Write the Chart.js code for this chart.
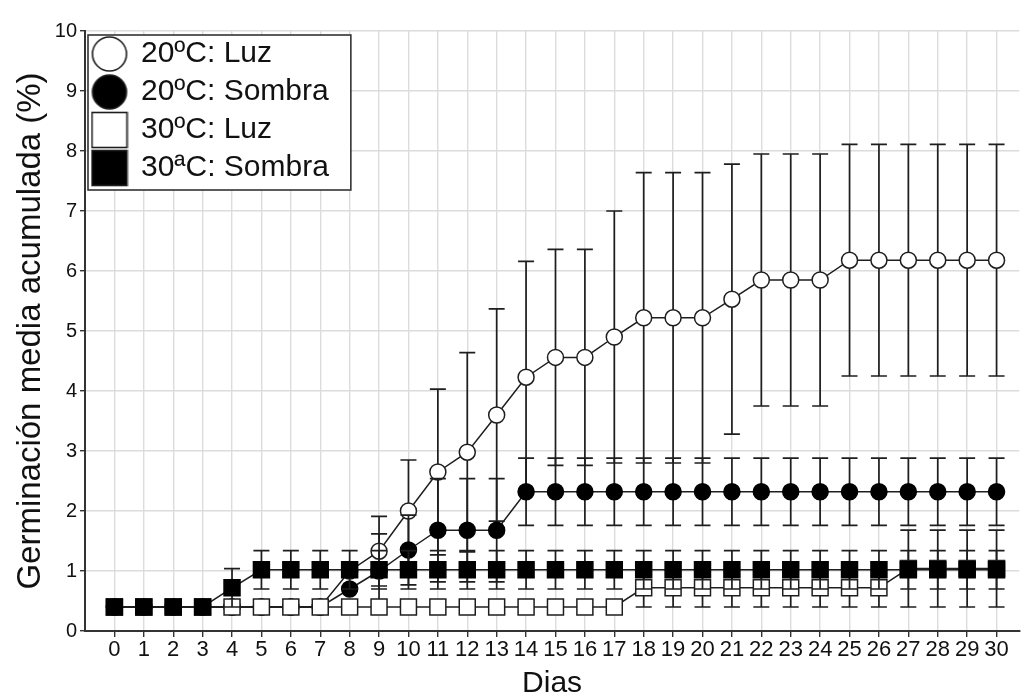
<!DOCTYPE html>
<html lang="es">
<head>
<meta charset="utf-8">
<title>Germinación media acumulada</title>
<script src="https://cdn.jsdelivr.net/npm/chart.js@4.4.1/dist/chart.umd.min.js"></script>
<style>
  html, body { margin: 0; padding: 0; background: #fff; }
  #wrap { width: 1032px; height: 698px; }
</style>
</head>
<body>
<div id="wrap"><canvas id="chart" width="1032" height="698"></canvas></div>
<script>
// Días de ensayo
const days = [0,1,2,3,4,5,6,7,8,9,10,11,12,13,14,15,16,17,18,19,20,21,22,23,24,25,26,27,28,29,30];

// 20ºC: Luz — media y desviación
const luz20   = [0.4,0.4,0.4,0.4,0.4,0.4,0.4,0.4,1.0,1.33,2.0,2.65,2.98,3.6,4.23,4.56,4.56,4.9,5.22,5.22,5.22,5.53,5.85,5.85,5.85,6.18,6.18,6.18,6.18,6.18,6.18];
const luz20Sd = [0,0,0,0,0,0,0,0,0,0.58,0.85,1.38,1.66,1.77,1.93,1.8,1.8,2.1,2.42,2.42,2.42,2.25,2.1,2.1,2.1,1.93,1.93,1.93,1.93,1.93,1.93];

// 20ºC: Sombra
const sombra20   = [0.4,0.4,0.4,0.4,0.4,0.4,0.4,0.4,0.7,1.0,1.35,1.68,1.68,1.68,2.32,2.32,2.32,2.32,2.32,2.32,2.32,2.32,2.32,2.32,2.32,2.32,2.32,2.32,2.32,2.32,2.32];
const sombra20Sd = [0,0,0,0,0,0,0,0,0,0.62,0.58,0.86,0.86,0.86,0.56,0.56,0.56,0.56,0.56,0.56,0.56,0.56,0.56,0.56,0.56,0.56,0.56,0.56,0.56,0.56,0.56];

// 30ºC: Luz
const luz30   = [0.4,0.4,0.4,0.4,0.4,0.4,0.4,0.4,0.4,0.4,0.4,0.4,0.4,0.4,0.4,0.4,0.4,0.4,0.72,0.72,0.72,0.72,0.72,0.72,0.72,0.72,0.72,1.04,1.04,1.04,1.04];
const luz30Sd = [0,0,0,0,0,0,0,0,0,0,0,0,0,0,0,0,0,0,0.32,0.32,0.32,0.32,0.32,0.32,0.32,0.32,0.32,0.64,0.64,0.64,0.64];

// 30ªC: Sombra
const sombra30   = [0.4,0.4,0.4,0.4,0.72,1.02,1.02,1.02,1.02,1.02,1.02,1.02,1.02,1.02,1.02,1.02,1.02,1.02,1.02,1.02,1.02,1.02,1.02,1.02,1.02,1.02,1.02,1.02,1.02,1.02,1.02];
const sombra30Sd = [0,0,0,0,0.32,0.32,0.32,0.32,0.32,0.32,0.32,0.32,0.32,0.32,0.32,0.32,0.32,0.32,0.32,0.32,0.32,0.32,0.32,0.32,0.32,0.32,0.32,0.32,0.32,0.32,0.32];

const seriesLabels = ['20ºC: Luz', '20ºC: Sombra', '30ºC: Luz', '30ªC: Sombra'];
const yTickValues = [0,1,2,3,4,5,6,7,8,9,10];
const xTitle = 'Dias';
const yTitle = 'Germinación media acumulada (%)';

const INK = '#1e1e1e';
Chart.defaults.font.family = '"Liberation Sans", Arial, Helvetica, sans-serif';
Chart.defaults.color = '#111';

const toPoints = vals => days.map((d, i) => ({ x: d, y: vals[i] }));

// Marker drawn in the legend box (larger than the plotted ones)
function legendMarker(shape, filled) {
  const size = 38;
  const c = document.createElement('canvas');
  c.width = size; c.height = size;
  const g = c.getContext('2d');
  g.lineWidth = 1.6;
  g.strokeStyle = INK;
  g.fillStyle = filled ? '#000' : '#fff';
  if (shape === 'circle') {
    g.beginPath();
    g.arc(size / 2, size / 2, 17, 0, Math.PI * 2);
    g.fill();
    g.stroke();
  } else {
    g.fillRect(1, 1, 36, 36);
    g.strokeRect(1.5, 1.5, 35, 35);
  }
  return c;
}

function series(label, vals, sd, shape, filled, order) {
  return {
    label,
    data: toPoints(vals),
    sd,
    order,
    filledMarker: filled,
    showLine: true,
    fill: false,
    tension: 0,
    borderColor: INK,
    borderWidth: 1.5,
    pointStyle: shape,
    pointRadius: shape === 'circle' ? 8 : 11.3,
    pointBackgroundColor: filled ? '#000' : '#fff',
    pointBorderColor: filled ? '#000' : INK,
    pointBorderWidth: 1.5
  };
}

// Error bars, drawn just before each dataset so the later series sit on top
const errorBars = {
  id: 'errorBars',
  beforeDatasetDraw(chart, args) {
    const ds = chart.data.datasets[args.index];
    if (!ds.sd) return;
    const { ctx, scales: { x, y } } = chart;
    const cap = 8;
    ctx.save();
    ctx.strokeStyle = INK;
    ctx.lineWidth = 1.7;
    ds.data.forEach((p, i) => {
      const s = ds.sd[i];
      if (!s) return;
      const px = x.getPixelForValue(p.x);
      const yTop = y.getPixelForValue(p.y + s);
      const yBot = y.getPixelForValue(p.y - s);
      ctx.beginPath();
      ctx.moveTo(px, yTop); ctx.lineTo(px, yBot);
      ctx.moveTo(px - cap, yTop); ctx.lineTo(px + cap, yTop);
      ctx.moveTo(px - cap, yBot); ctx.lineTo(px + cap, yBot);
      ctx.stroke();
    });
    ctx.restore();
  }
};

// White framed box behind the legend (covers the grid), then the legend on top
const legendFrame = {
  id: 'legendFrame',
  beforeDatasetsDraw(chart) {
    const lg = chart.legend;
    if (!lg || !lg.legendHitBoxes || !lg.legendHitBoxes.length) return;
    const hb = lg.legendHitBoxes;
    const left = hb[0].left - 5;
    const top = hb[0].top - 4;
    const right = Math.max(...hb.map(h => h.left + h.width)) + 22;
    const last = hb[hb.length - 1];
    const bottom = last.top + last.height + 7;
    const ctx = chart.ctx;
    ctx.save();
    ctx.fillStyle = '#fff';
    ctx.fillRect(left, top, right - left, bottom - top);
    ctx.strokeStyle = '#333';
    ctx.lineWidth = 1.6;
    ctx.strokeRect(left, top, right - left, bottom - top);
    ctx.restore();
    lg.draw();
  }
};

new Chart(document.getElementById('chart'), {
  type: 'line',
  data: {
    datasets: [
      series(seriesLabels[0], luz20, luz20Sd, 'circle', false, 4),
      series(seriesLabels[1], sombra20, sombra20Sd, 'circle', true, 3),
      series(seriesLabels[2], luz30, luz30Sd, 'rect', false, 2),
      series(seriesLabels[3], sombra30, sombra30Sd, 'rect', true, 1)
    ]
  },
  options: {
    responsive: false,
    devicePixelRatio: 1,
    animation: false,
    events: [],
    layout: { padding: { top: 31, left: 0, right: 0, bottom: 0 } },
    plugins: {
      tooltip: { enabled: false },
      legend: {
        position: 'chartArea',
        align: 'start',
        // empty title keeps the legend rows below the top of the plot area
        title: { display: true, text: '', font: { size: 31, lineHeight: 1 }, padding: 0 },
        labels: {
          usePointStyle: true,
          pointStyleWidth: 33,
          padding: 8,
          color: '#111',
          font: { size: 30 },
          generateLabels(chart) {
            return chart.data.datasets.map((ds, i) => ({
              text: ds.label,
              datasetIndex: i,
              pointStyle: legendMarker(ds.pointStyle, ds.filledMarker),
              fillStyle: ds.pointBackgroundColor,
              strokeStyle: ds.pointBorderColor,
              lineWidth: 0,
              hidden: false,
              fontColor: '#111'
            }));
          }
        }
      }
    },
    scales: {
      x: {
        type: 'linear',
        min: -1,
        max: 30.77,
        afterFit(scale) { scale.height = 67; },
        afterBuildTicks(scale) {
          scale.ticks = days.map(d => ({ value: d }));
        },
        ticks: {
          autoSkip: false,
          maxRotation: 0,
          padding: 0,
          color: '#111',
          font: { size: 22 },
          callback: v => String(v)
        },
        grid: { color: '#dcdcdc', lineWidth: 1.4, tickColor: '#333', tickLength: 6 },
        border: { color: '#333', width: 2 },
        title: {
          display: true,
          text: xTitle,
          color: '#111',
          font: { size: 30, lineHeight: 0.96 },
          padding: 0
        }
      },
      y: {
        min: 0,
        max: 10,
        afterFit(scale) { scale.width = 85; },
        afterBuildTicks(scale) {
          scale.ticks = yTickValues.map(v => ({ value: v }));
        },
        ticks: {
          padding: 3,
          color: '#111',
          font: { size: 20 },
          callback: v => String(v)
        },
        grid: { color: '#dcdcdc', lineWidth: 1.4, tickColor: '#333', tickLength: 5 },
        border: { color: '#333', width: 2 },
        title: {
          display: true,
          text: yTitle,
          color: '#111',
          font: { size: 33, lineHeight: 1.2 },
          padding: { top: 11, bottom: 0 }
        }
      }
    }
  },
  plugins: [errorBars, legendFrame]
});
</script>
</body>
</html>
